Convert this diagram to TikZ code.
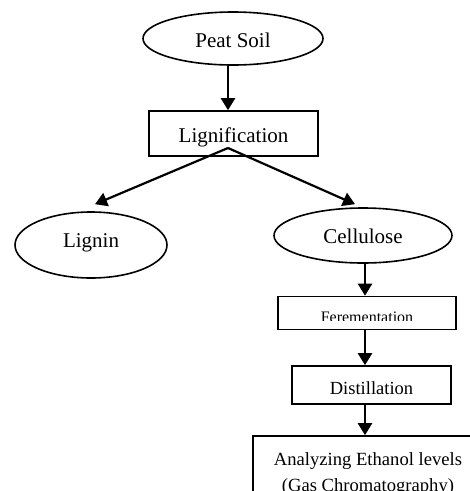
\documentclass[tikz,border=0pt]{standalone}
\usepackage{fontspec}
\setmainfont{Liberation Serif}
\usetikzlibrary{shapes.geometric,arrows.meta}
\tikzset{
  oval/.style={ellipse, draw, line width=1.6pt, inner sep=0pt, text depth=0pt, font=\fontsize{21}{25}\selectfont},
  box/.style={rectangle, draw, line width=1.6pt, inner sep=0pt, text depth=0pt},
  arr/.style={line width=2.2pt, -{Triangle[length=12pt,width=14pt]}},
}
\begin{document}
\begin{tikzpicture}[x=1pt,y=-1pt]
\clip (0,0) rectangle (470,491);
\useasboundingbox (0,0) rectangle (470,491);

\node[oval, minimum width=180pt, minimum height=53pt, text height=18pt] (peat) at (233,38.5) {Peat Soil};
\node[box, minimum width=169pt, minimum height=45pt, text height=17pt, font=\fontsize{21}{25}\selectfont] (lig) at (233.5,133.5) {Lignification};
\node[oval, minimum width=152pt, minimum height=66pt, text height=5.4pt] (lignin) at (91,245) {Lignin};
\node[oval, minimum width=178pt, minimum height=55pt, text height=15.6pt] (cell) at (363,235.5) {Cellulose};
\node[box, minimum width=178pt, minimum height=33pt] (ferm) at (367,313) {};
\begin{scope}
  \clip (278,296) rectangle (456,320.5);
  \node[inner sep=0pt, anchor=base, font=\fontsize{16}{19}\selectfont] (fermtext) at (367,322.5) {Ferementation};
\end{scope}
\node[box, minimum width=159pt, minimum height=38pt, text height=18pt, font=\fontsize{18.5}{22}\selectfont] (dist) at (371.5,385) {Distillation};
\node[box, minimum width=237pt, minimum height=84pt] (anal) at (371.5,478) {};
\node[inner sep=0pt, anchor=north, align=center, font=\fontsize{18.6}{26}\selectfont] (analtext) at (368,452.3) {Analyzing Ethanol levels\\(Gas Chromatography)};

\coordinate (split) at (228,148);
\coordinate (ax) at (365,0);

\draw[arr] (split |- peat.south) -- (split |- lig.north);
\draw[arr] (split) -- ([xshift=4pt,yshift=7pt]lignin.north);
\draw[arr] (split) -- ([xshift=-8pt,yshift=3pt]cell.north);
\draw[arr] (ax |- cell.south) -- (ax |- ferm.north);
\draw[arr] (ax |- ferm.south) -- (ax |- dist.north);
\draw[arr] (ax |- dist.south) -- (ax |- anal.north);
\end{tikzpicture}
\end{document}
